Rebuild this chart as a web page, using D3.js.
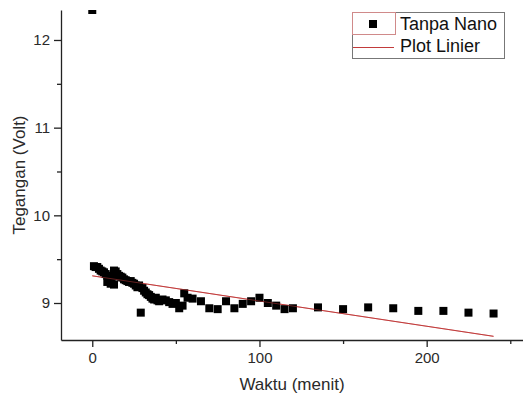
<!DOCTYPE html>
<html>
<head>
<meta charset="utf-8">
<script src="https://cdn.jsdelivr.net/npm/d3@7"></script>
<style>
  body { margin: 0; background: #fff; }
  svg { display: block; font-family: "Liberation Sans", Arial, sans-serif; }
</style>
</head>
<body>
<div id="chart"></div>
<script>
// Measured data (Tanpa Nano)
const waktu = [0, 1, 2, 3, 4, 5, 6, 7, 8, 9, 10, 11, 12, 13, 14, 15, 16, 17, 18, 19,
  20, 21, 22, 23, 24, 25, 26, 27, 28, 29, 30, 31, 32, 33, 34, 35, 36, 37, 38, 39,
  40, 42, 44, 46, 48, 50, 52, 54, 55, 57, 9, 11, 13,
  60, 65, 70, 75, 80, 85, 90, 95, 100, 105, 110, 115, 120,
  135, 150, 165, 180, 195, 210, 225, 240];
const tegangan = [12.342, 9.42, 9.41, 9.41, 9.39, 9.37, 9.36, 9.35, 9.33, 9.31, 9.30, 9.29, 9.30, 9.37, 9.36, 9.33, 9.31, 9.30, 9.29, 9.27,
  9.26, 9.25, 9.24, 9.25, 9.23, 9.22, 9.20, 9.18, 9.20, 8.89, 9.17, 9.14, 9.12, 9.10, 9.09, 9.07, 9.05, 9.04, 9.06, 9.03,
  9.02, 9.04, 9.03, 9.01, 8.99, 9.00, 8.94, 8.97, 9.11, 9.06, 9.24, 9.22, 9.21,
  9.05, 9.02, 8.94, 8.93, 9.02, 8.94, 8.99, 9.02, 9.06, 9.00, 8.97, 8.93, 8.94,
  8.95, 8.93, 8.95, 8.94, 8.91, 8.91, 8.89, 8.88];

// Linear fit (Plot Linier) end points
const fitWaktu = [0, 240];
const fitTegangan = [9.31, 8.62];

const xMajor = [0, 100, 200];
const xMinor = [50, 150, 250];
const yMajor = [9, 10, 11, 12];
const yMinor = [9.5, 10.5, 11.5];

const legendLabels = ['Tanpa Nano', 'Plot Linier'];

const width = 523, height = 397;
const plot = {left: 61, top: 10, right: 527, bottom: 340};

const svg = d3.select('#chart').append('svg')
  .attr('width', width)
  .attr('height', height);

const x = d3.scaleLinear().domain([-18.7, 260]).range([plot.left, plot.right]);
const y = d3.scaleLinear().domain([8.578, 12.342]).range([plot.bottom, plot.top]);

svg.append('clipPath').attr('id', 'clip')
  .append('rect')
  .attr('x', plot.left).attr('y', plot.top)
  .attr('width', plot.right - plot.left).attr('height', plot.bottom - plot.top);

// Axes
const axisColor = '#222';
const gX = svg.append('g')
  .attr('transform', 'translate(0,' + plot.bottom + ')')
  .call(d3.axisBottom(x).tickValues(xMajor).tickFormat(d3.format('d'))
    .tickSize(7).tickPadding(5).tickSizeOuter(0));
gX.append('g')
  .call(d3.axisBottom(x).tickValues(xMinor).tickSize(4).tickFormat('').tickSizeOuter(0))
  .select('.domain').remove();

const gY = svg.append('g')
  .attr('transform', 'translate(' + plot.left + ',0)')
  .call(d3.axisLeft(y).tickValues(yMajor).tickFormat(d3.format('d'))
    .tickSize(7).tickPadding(4).tickSizeOuter(0));
gY.append('g')
  .call(d3.axisLeft(y).tickValues(yMinor).tickSize(4).tickFormat('').tickSizeOuter(0))
  .select('.domain').remove();

svg.selectAll('.domain').attr('stroke', axisColor).attr('stroke-width', 1.3);
svg.selectAll('.tick line').attr('stroke', axisColor).attr('stroke-width', 1.3);
svg.selectAll('.tick text')
  .attr('fill', '#2a2a2a')
  .style('font-size', '15px')
  .style('font-family', '"Liberation Sans", Arial, sans-serif');

// Axis titles
svg.append('text')
  .attr('x', 292)
  .attr('y', 390)
  .attr('text-anchor', 'middle')
  .attr('fill', '#2a2a2a')
  .style('font-size', '17px')
  .text('Waktu (menit)');

svg.append('text')
  .attr('transform', 'translate(25,' + (plot.top + plot.bottom) / 2 + ') rotate(-90)')
  .attr('text-anchor', 'middle')
  .attr('fill', '#2a2a2a')
  .style('font-size', '17px')
  .text('Tegangan (Volt)');

// Marks
const g = svg.append('g').attr('clip-path', 'url(#clip)');
const size = 8;

g.append('line')
  .attr('x1', x(fitWaktu[0])).attr('y1', y(fitTegangan[0]))
  .attr('x2', x(fitWaktu[1])).attr('y2', y(fitTegangan[1]))
  .attr('stroke', '#c23b3b')
  .attr('stroke-width', 1);

g.selectAll('rect.pt')
  .data(d3.zip(waktu, tegangan))
  .enter()
  .append('rect')
  .attr('class', 'pt')
  .attr('x', d => x(d[0]) - size / 2)
  .attr('y', d => y(d[1]) - size / 2)
  .attr('width', size)
  .attr('height', size)
  .attr('fill', '#000');

// Redraw fit line faintly on top so it shows through the cluster
g.append('line')
  .attr('x1', x(fitWaktu[0])).attr('y1', y(fitTegangan[0]))
  .attr('x2', x(fitWaktu[1])).attr('y2', y(fitTegangan[1]))
  .attr('stroke', '#c23b3b')
  .attr('stroke-opacity', 0.5)
  .attr('stroke-width', 1);

// Legend
const legend = svg.append('g');
legend.append('rect')
  .attr('x', 352.5).attr('y', 12.5).attr('width', 152).attr('height', 46)
  .attr('fill', '#fff').attr('stroke', '#777').attr('stroke-width', 1);
legend.append('rect')
  .attr('x', 352.5).attr('y', 12.5).attr('width', 43).attr('height', 22)
  .attr('fill', 'none').attr('stroke', '#d08a8a').attr('stroke-width', 1);
legend.append('rect')
  .attr('x', 373 - size / 2).attr('y', 24 - size / 2)
  .attr('width', size).attr('height', size).attr('fill', '#000');
legend.append('line')
  .attr('x1', 353).attr('x2', 394).attr('y1', 47.5).attr('y2', 47.5)
  .attr('stroke', '#c23b3b').attr('stroke-width', 1);
legend.selectAll('text.lbl')
  .data(legendLabels)
  .enter()
  .append('text')
  .attr('class', 'lbl')
  .attr('x', 400)
  .attr('y', (d, i) => 30 + i * 22)
  .attr('fill', '#111')
  .style('font-size', '18px')
  .text(d => d);
</script>
</body>
</html>
